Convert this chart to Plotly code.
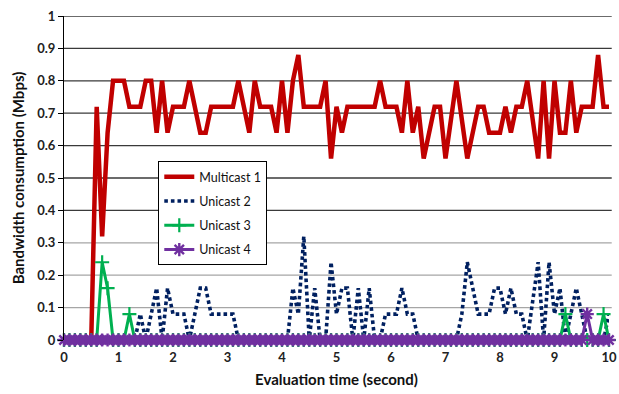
import plotly.graph_objects as go

# ---- data ----
time_s = [
    0.0, 0.1, 0.2, 0.3, 0.4, 0.5, 0.6, 0.7, 0.8, 0.9,
    1.0, 1.1, 1.2, 1.3, 1.4, 1.5, 1.6, 1.7, 1.8, 1.9,
    2.0, 2.1, 2.2, 2.3, 2.4, 2.5, 2.6, 2.7, 2.8, 2.9,
    3.0, 3.1, 3.2, 3.3, 3.4, 3.5, 3.6, 3.7, 3.8, 3.9,
    4.0, 4.1, 4.2, 4.3, 4.4, 4.5, 4.6, 4.7, 4.8, 4.9,
    5.0, 5.1, 5.2, 5.3, 5.4, 5.5, 5.6, 5.7, 5.8, 5.9,
    6.0, 6.1, 6.2, 6.3, 6.4, 6.5, 6.6, 6.7, 6.8, 6.9,
    7.0, 7.1, 7.2, 7.3, 7.4, 7.5, 7.6, 7.7, 7.8, 7.9,
    8.0, 8.1, 8.2, 8.3, 8.4, 8.5, 8.6, 8.7, 8.8, 8.9,
    9.0, 9.1, 9.2, 9.3, 9.4, 9.5, 9.6, 9.7, 9.8, 9.9,
    10.0,
]

multicast1 = [
    0, 0, 0, 0, 0, 0, 0.72, 0.32, 0.64, 0.80,
    0.80, 0.80, 0.72, 0.72, 0.72, 0.80, 0.80, 0.64, 0.80, 0.64,
    0.72, 0.72, 0.72, 0.80, 0.72, 0.64, 0.64, 0.72, 0.72, 0.72,
    0.72, 0.72, 0.80, 0.72, 0.64, 0.80, 0.72, 0.72, 0.72, 0.64,
    0.80, 0.64, 0.80, 0.88, 0.72, 0.72, 0.72, 0.72, 0.80, 0.56,
    0.72, 0.64, 0.72, 0.72, 0.72, 0.72, 0.72, 0.72, 0.80, 0.72,
    0.72, 0.72, 0.64, 0.80, 0.64, 0.72, 0.56, 0.64, 0.72, 0.72,
    0.56, 0.68, 0.80, 0.68, 0.56, 0.64, 0.72, 0.72, 0.64, 0.64,
    0.64, 0.72, 0.64, 0.72, 0.72, 0.80, 0.68, 0.56, 0.80, 0.56,
    0.80, 0.64, 0.64, 0.80, 0.64, 0.72, 0.72, 0.72, 0.88, 0.72,
    0.72,
]

unicast2 = [
    0, 0, 0, 0, 0, 0, 0, 0, 0, 0,
    0, 0, 0, 0, 0.08, 0, 0.08, 0.16, 0, 0.16,
    0.08, 0.08, 0.08, 0, 0.08, 0.16, 0.16, 0.08, 0.08, 0.08,
    0.08, 0.08, 0, 0, 0, 0, 0, 0, 0, 0,
    0, 0, 0.16, 0.08, 0.32, 0, 0.16, 0, 0, 0.24,
    0.08, 0.16, 0.16, 0, 0.16, 0, 0.16, 0, 0, 0.08,
    0.08, 0.08, 0.16, 0.08, 0.08, 0, 0, 0, 0, 0,
    0, 0, 0, 0.08, 0.24, 0.16, 0.08, 0.08, 0.08, 0.16,
    0.16, 0.08, 0.16, 0.08, 0.08, 0, 0.12, 0.24, 0, 0.24,
    0.08, 0.16, 0, 0.08, 0.16, 0.08, 0, 0, 0, 0,
    0.08,
]

unicast3 = [
    0, 0, 0, 0, 0, 0, 0, 0.24, 0.16, 0,
    0, 0, 0.08, 0, 0, 0, 0, 0, 0, 0,
    0, 0, 0, 0, 0, 0, 0, 0, 0, 0,
    0, 0, 0, 0, 0, 0, 0, 0, 0, 0,
    0, 0, 0, 0, 0, 0, 0, 0, 0, 0,
    0, 0, 0, 0, 0, 0, 0, 0, 0, 0,
    0, 0, 0, 0, 0, 0, 0, 0, 0, 0,
    0, 0, 0, 0, 0, 0, 0, 0, 0, 0,
    0, 0, 0, 0, 0, 0, 0, 0, 0, 0,
    0, 0, 0.08, 0, 0, 0, 0, 0, 0, 0.08,
    0,
]

unicast4 = [
    0, 0, 0, 0, 0, 0, 0, 0, 0, 0,
    0, 0, 0, 0, 0, 0, 0, 0, 0, 0,
    0, 0, 0, 0, 0, 0, 0, 0, 0, 0,
    0, 0, 0, 0, 0, 0, 0, 0, 0, 0,
    0, 0, 0, 0, 0, 0, 0, 0, 0, 0,
    0, 0, 0, 0, 0, 0, 0, 0, 0, 0,
    0, 0, 0, 0, 0, 0, 0, 0, 0, 0,
    0, 0, 0, 0, 0, 0, 0, 0, 0, 0,
    0, 0, 0, 0, 0, 0, 0, 0, 0, 0,
    0, 0, 0, 0, 0, 0, 0.08, 0, 0, 0,
    0,
]

x_ticks = [0, 1, 2, 3, 4, 5, 6, 7, 8, 9, 10]
y_ticks = [0, 0.1, 0.2, 0.3, 0.4, 0.5, 0.6, 0.7, 0.8, 0.9, 1]
y_tick_labels = ["0", "0.1", "0.2", "0.3", "0.4", "0.5", "0.6", "0.7", "0.8", "0.9", "1"]

FONT = "Lato"

fig = go.Figure()
fig.add_trace(go.Scatter(
    x=time_s, y=multicast1, name="Multicast 1", mode="lines", cliponaxis=False,
    line=dict(color="#C00000", width=4.5), legendgroup="a"))
fig.add_trace(go.Scatter(
    x=time_s, y=unicast2, name="Unicast 2", mode="lines", cliponaxis=False,
    line=dict(color="#002060", width=3.6, dash="3.6px,3px"), legendgroup="b"))
fig.add_trace(go.Scatter(
    x=time_s, y=unicast3, name="Unicast 3", mode="lines+markers", cliponaxis=False,
    line=dict(color="#00B050", width=3),
    marker=dict(symbol="cross-thin-open", size=10, color="#00B050",
                line=dict(color="#00B050", width=2.2)), legendgroup="c"))
fig.add_trace(go.Scatter(
    x=time_s, y=unicast4, name="Unicast 4", mode="lines+markers", cliponaxis=False,
    line=dict(color="#7030A0", width=3),
    marker=dict(symbol="asterisk-open", size=11, color="#7030A0",
                line=dict(color="#7030A0", width=2.4)), legendgroup="d"))

# horizontal gridlines (upper ones darker, as in the reference)
for v in y_ticks[1:]:
    fig.add_shape(type="line", xref="paper", yref="y", x0=0, x1=1.005, y0=v, y1=v,
                  line=dict(color="#3A3A3A" if v >= 0.35 else "#A6A6A6", width=1.3),
                  layer="below")

fig.update_layout(
    width=619, height=394,
    margin=dict(l=64, r=10, t=16, b=54),
    paper_bgcolor="white", plot_bgcolor="white",
    font=dict(family=FONT, color="#222222"),
    showlegend=True,
    legend=dict(x=0.173, y=0.552, xanchor="left", yanchor="top",
                bgcolor="white", bordercolor="#000000", borderwidth=1,
                font=dict(family=FONT, size=12.5, color="#111111"),
                tracegroupgap=5, itemwidth=30),
    xaxis=dict(range=[0, 10], tickvals=x_ticks, showgrid=False, zeroline=False,
               showline=False, ticks="", ticklabelstandoff=8,
               ticklabeloverflow="allow", automargin=False,
               tickfont=dict(family=FONT, size=13, weight="bold", color="#222222"),
               title=dict(text="Evaluation time (second)", standoff=10,
                          font=dict(family=FONT, size=15, weight="bold", color="#111111"))),
    yaxis=dict(range=[0, 1], tickvals=y_ticks, ticktext=y_tick_labels, showgrid=False,
               zeroline=False, showline=True, linecolor="#000000", linewidth=1.2,
               ticks="outside", ticklen=5, tickcolor="#000000", automargin=False,
               tickfont=dict(family=FONT, size=13, weight="bold", color="#222222"),
               title=dict(text="Bandwidth consumption (Mbps)", standoff=8,
                          font=dict(family=FONT, size=15, weight="bold", color="#111111"))),
)

fig.write_html("out.html")
